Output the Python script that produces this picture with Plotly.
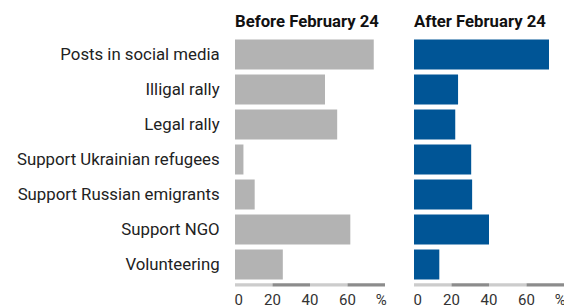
import plotly.graph_objects as go

categories = ["Posts in social media", "Illigal rally", "Legal rally",
              "Support Ukrainian refugees", "Support Russian emigrants",
              "Support NGO", "Volunteering"]
before_values = [74, 48, 54.5, 4.5, 10.5, 61.5, 25.5]
after_values = [72, 23.5, 22, 30.5, 31, 40, 13.5]
panel_titles = ["Before February 24", "After February 24"]
tick_values = [0, 20, 40, 60, 80]
tick_labels = ["\u00a0\u00a00", "20", "40", "60", "%\u00a0\u00a0"]

GRAY = "#b3b3b3"
BLUE = "#005596"
FONT = "Roboto"

W, H = 564, 306
fig = go.Figure()

left_dom = [235 / W, 385 / W]
right_dom = [414 / W, 1.0]

fig.add_trace(go.Bar(y=categories, x=before_values, orientation="h",
                     marker=dict(color=GRAY, line=dict(width=0)),
                     xaxis="x", yaxis="y", hoverinfo="x+y"))
fig.add_trace(go.Bar(y=categories, x=after_values, orientation="h",
                     marker=dict(color=BLUE, line=dict(width=0)),
                     xaxis="x2", yaxis="y2", hoverinfo="x+y"))

xcommon = dict(range=[0, 80], tickvals=tick_values, ticktext=tick_labels,
               showgrid=False, zeroline=False, showline=False, automargin=False,
               ticks="outside", ticklen=4, tickcolor="rgba(0,0,0,0)",
               ticklabeloverflow="allow",
               tickfont=dict(family=FONT, size=15, color="#333333"), fixedrange=True)
ycommon = dict(categoryorder="array", categoryarray=categories[::-1], automargin=False,
               showgrid=False, zeroline=False, showline=False, fixedrange=True)

fig.update_layout(
    width=W, height=H,
    margin=dict(l=0, r=0, t=37, b=24),
    paper_bgcolor="white", plot_bgcolor="white",
    showlegend=False, bargap=0.143,
    font=dict(family=FONT, size=16.8, color="#222222"),
    xaxis=dict(domain=left_dom, anchor="y", **xcommon),
    xaxis2=dict(domain=right_dom, anchor="y2", **xcommon),
    yaxis=dict(anchor="x", ticks="outside", ticklen=11, tickcolor="rgba(0,0,0,0)",
               tickfont=dict(family=FONT, size=16.8, color="#222222"), **ycommon),
    yaxis2=dict(anchor="x2", showticklabels=False, **ycommon),
)

# titles
for xref, title in zip(["x domain", "x2 domain"], panel_titles):
    fig.add_annotation(x=0, y=1 + 15 / 245, xref=xref, yref="paper",
                       xanchor="left", yanchor="middle", showarrow=False,
                       xshift=-2,
                       text="<b>" + title + "</b>",
                       font=dict(family=FONT, size=16.7, color="#111111"))

# alternating axis baseline segments
seg_colors = ["#cccccc", "#8c8c8c"]
for xr in ["x", "x2"]:
    for i in range(len(tick_values) - 1):
        fig.add_shape(type="rect", xref=xr, yref="paper",
                      x0=tick_values[i], x1=tick_values[i + 1],
                      y0=-1.3 / 245, y1=-4.6 / 245,
                      fillcolor=seg_colors[i % 2], line=dict(width=0), layer="above")

fig.write_html("out.html", config={"displayModeBar": False},
               post_script="document.body.style.margin='0';document.body.style.overflow='hidden';")
